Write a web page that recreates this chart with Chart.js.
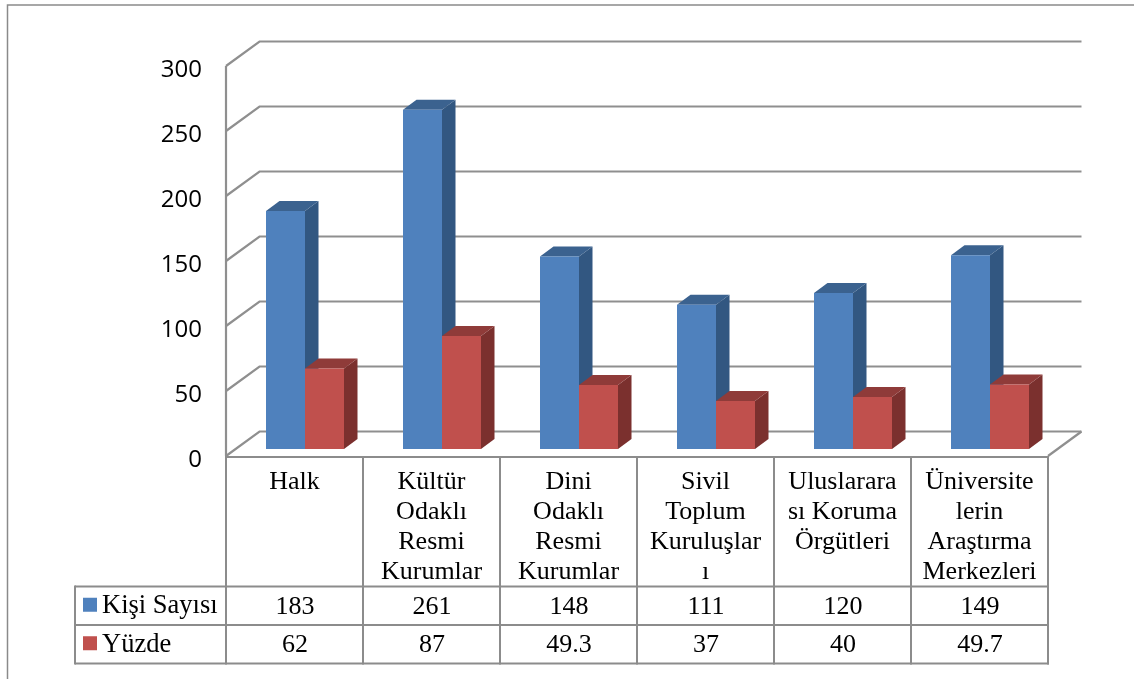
<!DOCTYPE html>
<html lang="tr">
<head>
<meta charset="utf-8">
<title>Kişi Sayısı ve Yüzde</title>
<style>html,body{margin:0;padding:0;background:#fff}canvas{display:block}</style>
<script src="https://cdn.jsdelivr.net/npm/chart.js@4"></script>
</head>
<body>
<canvas id="c" width="1134" height="679"></canvas>
<script>
const categories = [
  ["Halk"],
  ["Kültür", "Odaklı", "Resmi", "Kurumlar"],
  ["Dini", "Odaklı", "Resmi", "Kurumlar"],
  ["Sivil", "Toplum", "Kuruluşlar", "ı"],
  ["Uluslarara", "sı Koruma", "Örgütleri"],
  ["Üniversite", "lerin", "Araştırma", "Merkezleri"]
];
const kisiSayisi = [183, 261, 148, 111, 120, 149];
const yuzde = [62, 87, 49.3, 37, 40, 49.7];
const seriesNames = ["Kişi Sayısı", "Yüzde"];

const SERIF = '"Liberation Serif", serif';
const GRID = '#8f8f8f';
const FACE = ['#4F81BD', '#C0504D'];
const TOP = ['#3B628F', '#8F3B39'];
const SIDE = ['#325781', '#7B302E'];
const PLANE = {x: 10.5, y: -7};   // front plane of bars relative to the floor edge
const BAR_DEPTH = {x: 13.5, y: -10};
const WALL_DEPTH = {x: 33.5, y: -24.5};

function line(ctx, x1, y1, x2, y2) {
  ctx.beginPath(); ctx.moveTo(x1, y1); ctx.lineTo(x2, y2); ctx.stroke();
}
function poly(ctx, pts, fill) {
  ctx.fillStyle = fill;
  ctx.beginPath();
  pts.forEach((p, i) => i ? ctx.lineTo(p[0], p[1]) : ctx.moveTo(p[0], p[1]));
  ctx.closePath(); ctx.fill();
}

const view3d = {
  id: 'view3d',
  beforeDraw(chart) {
    const {ctx, chartArea: a, scales: {y}} = chart;
    // page frame
    ctx.save();
    ctx.strokeStyle = '#8a8a8a'; ctx.lineWidth = 1.5;
    ctx.beginPath(); ctx.moveTo(7.5, 679); ctx.lineTo(7.5, 5); ctx.lineTo(1134, 5); ctx.stroke();
    // walls
    ctx.strokeStyle = GRID; ctx.lineWidth = 2.2; ctx.lineCap = 'butt';
    y.ticks.forEach(t => {
      const py = y.getPixelForValue(t.value);
      ctx.beginPath();
      ctx.moveTo(a.left, py);
      ctx.lineTo(a.left + WALL_DEPTH.x, py + WALL_DEPTH.y);
      ctx.lineTo(a.right + WALL_DEPTH.x, py + WALL_DEPTH.y);
      ctx.stroke();
    });
    line(ctx, a.left, a.top, a.left, a.bottom);
    line(ctx, a.right, a.bottom, a.right + WALL_DEPTH.x, a.bottom + WALL_DEPTH.y);
    ctx.restore();
  },
  beforeDatasetsDraw(chart) {
    const {ctx} = chart;
    ctx.save();
    ctx.translate(PLANE.x, PLANE.y);
    chart.data.labels.forEach((_, j) => {
      chart.data.datasets.forEach((ds, i) => {
        const b = chart.getDatasetMeta(i).data[j];
        const l = b.x - b.width / 2, r = b.x + b.width / 2, t = b.y, bt = b.base;
        const dx = BAR_DEPTH.x, dy = BAR_DEPTH.y;
        poly(ctx, [[r, t], [r + dx, t + dy], [r + dx, bt + dy], [r, bt]], SIDE[i]);
        poly(ctx, [[l, t], [l + dx, t + dy], [r + dx, t + dy], [r, t]], TOP[i]);
      });
    });
  },
  afterDatasetsDraw(chart) {
    chart.ctx.restore();
  },
  afterDraw(chart) {
    const {ctx, chartArea: a, scales: {x}} = chart;
    const tableLeft = 75, rowTop = 586.5, rowH = 38.5;
    const band = x.getPixelForValue(1) - x.getPixelForValue(0);
    const edges = chart.data.labels.map((_, i) => x.getPixelForValue(i) - band / 2);
    edges.push(a.right);
    ctx.save();
    ctx.strokeStyle = '#8c8c8c'; ctx.lineWidth = 2;
    line(ctx, a.left - 1, a.bottom + 1, a.right + 1, a.bottom + 1);
    edges.forEach(e => line(ctx, e, a.bottom, e, rowTop + rowH * 2 + 1));
    [0, 1, 2].forEach(r => line(ctx, tableLeft, rowTop + rowH * r, a.right + 1, rowTop + rowH * r));
    line(ctx, tableLeft, rowTop - 1, tableLeft, rowTop + rowH * 2 + 1);
    ctx.textBaseline = 'middle';
    [kisiSayisi, yuzde].forEach((vals, r) => {
      const cy = rowTop + rowH * r + rowH / 2;
      ctx.fillStyle = FACE[r];
      ctx.fillRect(83, cy - 8, 14, 14);
      ctx.fillStyle = '#000';
      ctx.textAlign = 'left';
      ctx.font = '26.5px ' + SERIF;
      ctx.fillText(seriesNames[r], 102, cy + 0.5);
      ctx.textAlign = 'center';
      ctx.font = '26px ' + SERIF;
      vals.forEach((v, j) => ctx.fillText(String(v), x.getPixelForValue(j) + 0.5, cy + 1));
    });
    ctx.restore();
  }
};

new Chart(document.getElementById('c'), {
  type: 'bar',
  plugins: [view3d],
  data: {
    labels: categories,
    datasets: [
      {label: seriesNames[0], data: kisiSayisi, backgroundColor: FACE[0], clip: false},
      {label: seriesNames[1], data: yuzde, backgroundColor: FACE[1], clip: false}
    ]
  },
  options: {
    responsive: false,
    animation: false,
    events: [],
    layout: {padding: {top: 66, right: 86, left: 0, bottom: 0}},
    plugins: {legend: {display: false}, title: {display: false}, tooltip: {enabled: false}},
    datasets: {bar: {categoryPercentage: 78 / 137, barPercentage: 1}},
    scales: {
      x: {
        grid: {display: false, drawTicks: false},
        border: {display: false},
        ticks: {
          autoSkip: false, maxRotation: 0, minRotation: 0, padding: 11, color: '#000',
          font: {family: SERIF, size: 26, lineHeight: 30 / 26}
        },
        afterFit(s) { s.height = 223; }
      },
      y: {
        min: 0, max: 300,
        grid: {display: false, drawTicks: false},
        border: {display: false},
        ticks: {
          stepSize: 50, padding: 24, color: '#000',
          // an empty leading line nudges the label down to the printed position
          callback: v => ['', String(v)],
          font: {family: '"Open Sans", sans-serif', size: 24, lineHeight: 8 / 24}
        },
        afterFit(s) { s.width = 226; }
      }
    }
  }
});
</script>
</body>
</html>
